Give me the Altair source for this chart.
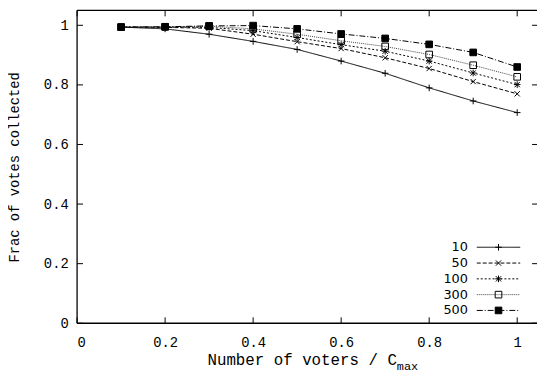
import altair as alt
import pandas as pd

# ---- data ----
x_vals = [0.1, 0.2, 0.3, 0.4, 0.5, 0.6, 0.7, 0.8, 0.9, 1.0]
series_names = ["10", "50", "100", "300", "500"]
s10 = [0.994, 0.988, 0.970, 0.946, 0.919, 0.880, 0.839, 0.790, 0.746, 0.707]
s50 = [0.994, 0.993, 0.990, 0.970, 0.945, 0.922, 0.891, 0.855, 0.811, 0.770]
s100 = [0.994, 0.994, 0.993, 0.982, 0.959, 0.935, 0.913, 0.880, 0.840, 0.801]
s300 = [0.994, 0.995, 0.997, 0.988, 0.970, 0.948, 0.929, 0.902, 0.866, 0.827]
s500 = [0.994, 0.995, 0.998, 0.999, 0.988, 0.971, 0.956, 0.936, 0.909, 0.860]
x_ticks = [0, 0.2, 0.4, 0.6, 0.8, 1.0]
y_ticks = [0, 0.2, 0.4, 0.6, 0.8, 1.0]

all_series = [s10, s50, s100, s300, s500]
rows = []
for name, vals in zip(series_names, all_series):
    for xv, yv in zip(x_vals, vals):
        rows.append({"series": name, "x": xv, "y": yv})
df = pd.DataFrame(rows)
legend_df = pd.DataFrame({"series": series_names, "row": list(range(len(series_names)))})
xt_df = pd.DataFrame({"t": x_ticks})
yt_df = pd.DataFrame({"t": y_ticks})

W, H = 466, 317
MONO = "'Liberation Mono', 'Courier New', Courier, 'DejaVu Sans Mono', monospace"

xscale = alt.Scale(domain=[0, 1.045], nice=False, zero=False)
yscale = alt.Scale(domain=[0, 1.05], nice=False, zero=False)

xaxis = alt.Axis(values=x_ticks, title=None, ticks=False, tickSize=0, labelPadding=13,
                 format="~g", grid=False, domain=False)
yaxis = alt.Axis(values=y_ticks, title="Frac of votes collected", ticks=False, tickSize=0,
                 labelPadding=9, format="~g", grid=False, domain=False,
                 titlePadding=22, titleFontSize=14, titleFontWeight="normal")

dashes = [[1, 0], [4, 2], [2, 2], [1, 1], [6, 2, 1, 2]]
line_colors = ["black", "black", "black", "#444444", "black"]
shapes = [
    "M-1,0L1,0M0,-1L0,1",
    "M-0.8,-0.8L0.8,0.8M-0.8,0.8L0.8,-0.8",
    "M-1,0L1,0M0,-1L0,1M-0.8,-0.8L0.8,0.8M-0.8,0.8L0.8,-0.8",
    "square",
    "square",
]
fills = ["transparent", "transparent", "transparent", "transparent", "black"]

dash_enc = alt.StrokeDash("series:N", scale=alt.Scale(domain=series_names, range=dashes), legend=None)
col_enc = alt.Stroke("series:N", scale=alt.Scale(domain=series_names, range=line_colors), legend=None)
shape_enc = alt.Shape("series:N", scale=alt.Scale(domain=series_names, range=shapes), legend=None)
fill_enc = alt.Fill("series:N", scale=alt.Scale(domain=series_names, range=fills), legend=None)

base = alt.Chart(df)

lines = base.mark_line(strokeWidth=1).encode(
    x=alt.X("x:Q", scale=xscale, axis=xaxis),
    y=alt.Y("y:Q", scale=yscale, axis=yaxis),
    strokeDash=dash_enc,
    stroke=col_enc,
    detail="series:N",
)

points = base.mark_point(size=45, strokeWidth=1, opacity=1).encode(
    x=alt.X("x:Q", scale=xscale, axis=xaxis),
    y=alt.Y("y:Q", scale=yscale, axis=None),
    shape=shape_enc,
    fill=fill_enc,
    stroke=alt.value("black"),
)

# frame and inward ticks
xt = alt.Chart(xt_df)
yt = alt.Chart(yt_df)
tick_bottom = xt.mark_rule(color="black", strokeWidth=1).encode(
    x=alt.X("t:Q", scale=xscale, axis=xaxis), y=alt.value(H), y2=alt.value(H - 6))
tick_top = xt.mark_rule(color="black", strokeWidth=1).encode(
    x=alt.X("t:Q", scale=xscale, axis=xaxis), y=alt.value(0), y2=alt.value(6))
tick_left = yt.mark_rule(color="black", strokeWidth=1).encode(
    y=alt.Y("t:Q", scale=yscale, axis=None), x=alt.value(0), x2=alt.value(6))
tick_right = yt.mark_rule(color="black", strokeWidth=1).encode(
    y=alt.Y("t:Q", scale=yscale, axis=None), x=alt.value(W - 5), x2=alt.value(W))

frame_df = pd.DataFrame({"side": ["top"]})
border_top = alt.Chart(frame_df).mark_rule(color="black", strokeWidth=1.3).encode(
    x=alt.value(0), x2=alt.value(W), y=alt.value(0))
border_bottom = alt.Chart(frame_df).mark_rule(color="black", strokeWidth=1.3).encode(
    x=alt.value(0), x2=alt.value(W), y=alt.value(H))
border_left = alt.Chart(frame_df).mark_rule(color="black", strokeWidth=1.3).encode(
    x=alt.value(0), y=alt.value(0), y2=alt.value(H))

# x-axis title with subscript
xtitle_main = alt.Chart(pd.DataFrame({"t": ["Number of voters / C"]})).mark_text(
    font=MONO, fontSize=16, align="right", baseline="alphabetic", color="black").encode(
    text="t:N", x=alt.value(324), y=alt.value(359))
xtitle_sub = alt.Chart(pd.DataFrame({"t": ["max"]})).mark_text(
    font=MONO, fontSize=12, align="left", baseline="alphabetic", color="black").encode(
    text="t:N", x=alt.value(324), y=alt.value(364))

# legend
leg = alt.Chart(legend_df)
ly = alt.Y("row:Q", scale=alt.Scale(domain=[0, 4], range=[240, 304]), axis=None)
leg_text = leg.mark_text(font="DejaVu Sans", fontSize=13, align="right", baseline="middle",
                         color="black").encode(text="series:N", x=alt.value(396), y=ly)
leg_line = leg.mark_rule(strokeWidth=1).encode(
    x=alt.value(405), x2=alt.value(449), y=ly, strokeDash=dash_enc, stroke=col_enc)
leg_pt = leg.mark_point(size=45, strokeWidth=1, opacity=1).encode(
    x=alt.value(427), y=ly, shape=shape_enc, fill=fill_enc, stroke=alt.value("black"))

chart = alt.layer(
    lines, points, tick_bottom, tick_top, tick_left, tick_right,
    border_top, border_bottom, border_left,
    xtitle_main, xtitle_sub, leg_line, leg_pt, leg_text
).resolve_scale(y="independent").properties(
    width=W, height=H,
    autosize=alt.AutoSizeParams(type="none"),
    padding={"left": 70, "top": 0, "right": 0, "bottom": 50},
).configure_view(stroke=None).configure_axis(
    labelFont=MONO, labelFontSize=14, labelColor="black", titleFont=MONO, titleColor="black",
)

chart.save("out.html", embed_options={"renderer": "svg", "actions": False})
